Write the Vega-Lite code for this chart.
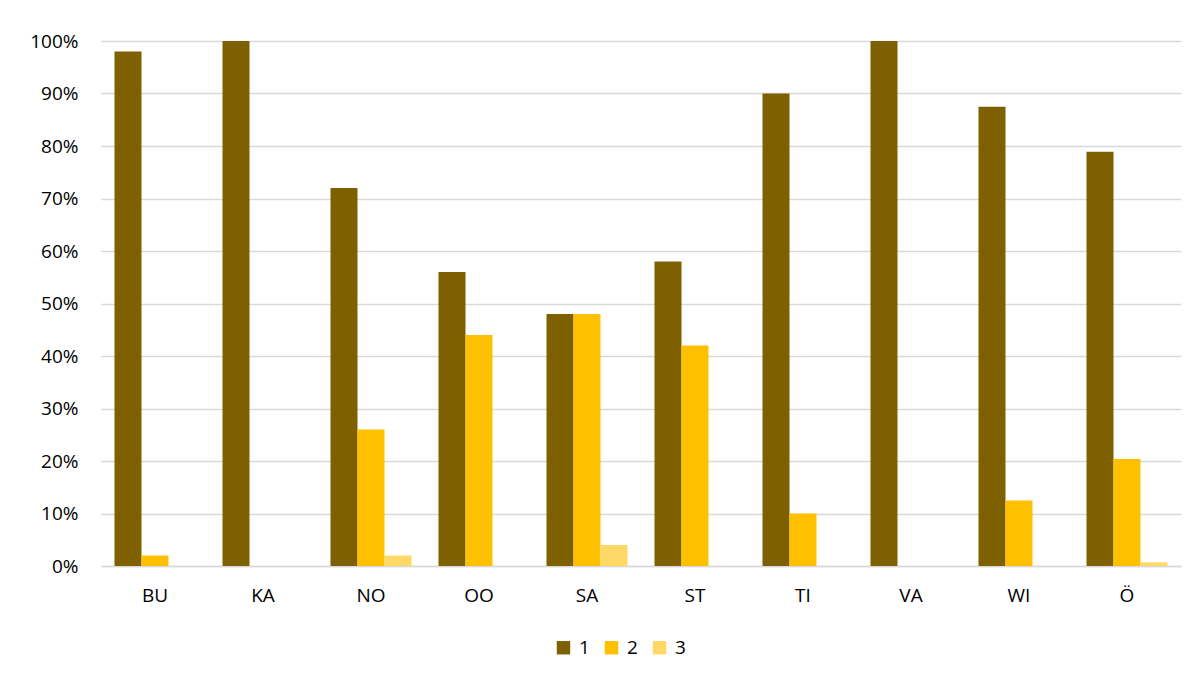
{
  "$schema": "https://vega.github.io/schema/vega-lite/v6.json",
  "width": 1080,
  "height": 525,
  "autosize": {"type": "none"},
  "padding": {"left": 101, "top": 41, "right": 17, "bottom": 116},
  "background": "white",
  "config": {
    "view": {"stroke": null},
    "font": "Open Sans"
  },
  "data": {
    "values": [
      {"region": "BU", "series": "1", "value": 0.98},
      {"region": "BU", "series": "2", "value": 0.02},
      {"region": "BU", "series": "3", "value": 0},
      {"region": "KA", "series": "1", "value": 1.0},
      {"region": "KA", "series": "2", "value": 0},
      {"region": "KA", "series": "3", "value": 0},
      {"region": "NO", "series": "1", "value": 0.72},
      {"region": "NO", "series": "2", "value": 0.26},
      {"region": "NO", "series": "3", "value": 0.02},
      {"region": "OO", "series": "1", "value": 0.56},
      {"region": "OO", "series": "2", "value": 0.44},
      {"region": "OO", "series": "3", "value": 0},
      {"region": "SA", "series": "1", "value": 0.48},
      {"region": "SA", "series": "2", "value": 0.48},
      {"region": "SA", "series": "3", "value": 0.04},
      {"region": "ST", "series": "1", "value": 0.58},
      {"region": "ST", "series": "2", "value": 0.42},
      {"region": "ST", "series": "3", "value": 0},
      {"region": "TI", "series": "1", "value": 0.90},
      {"region": "TI", "series": "2", "value": 0.10},
      {"region": "TI", "series": "3", "value": 0},
      {"region": "VA", "series": "1", "value": 1.0},
      {"region": "VA", "series": "2", "value": 0},
      {"region": "VA", "series": "3", "value": 0},
      {"region": "WI", "series": "1", "value": 0.875},
      {"region": "WI", "series": "2", "value": 0.125},
      {"region": "WI", "series": "3", "value": 0},
      {"region": "Ö", "series": "1", "value": 0.789},
      {"region": "Ö", "series": "2", "value": 0.204},
      {"region": "Ö", "series": "3", "value": 0.007}
    ]
  },
  "mark": {"type": "bar"},
  "encoding": {
    "x": {
      "field": "region",
      "type": "nominal",
      "sort": null,
      "scale": {"paddingInner": 0.25, "paddingOuter": 0.125},
      "axis": {
        "title": null,
        "labelAngle": 0,
        "ticks": false,
        "domainColor": "#d9d9d9",
        "domainWidth": 1.5,
        "labelPadding": 20,
        "labelFontSize": 19,
        "labelColor": "#000000",
        "labelFont": "Open Sans"
      }
    },
    "xOffset": {"field": "series", "type": "nominal", "scale": {"paddingInner": 0, "paddingOuter": 0}},
    "y": {
      "field": "value",
      "type": "quantitative",
      "scale": {"domain": [0, 1]},
      "axis": {
        "title": null,
        "format": ".0%",
        "values": [0, 0.1, 0.2, 0.3, 0.4, 0.5, 0.6, 0.7, 0.8, 0.9, 1.0],
        "labelOverlap": false,
        "ticks": false,
        "domain": false,
        "gridColor": "#d9d9d9",
        "gridWidth": 1.3,
        "labelPadding": 23,
        "labelFontSize": 19,
        "labelColor": "#000000",
        "labelFont": "Open Sans"
      }
    },
    "color": {
      "field": "series",
      "type": "nominal",
      "scale": {"domain": ["1", "2", "3"], "range": ["#7f6000", "#ffc000", "#ffd966"]},
      "legend": {
        "title": null,
        "orient": "none",
        "legendX": 453,
        "legendY": 597,
        "direction": "horizontal",
        "symbolType": "square",
        "symbolSize": 180,
        "symbolStrokeWidth": 0,
        "labelFontSize": 19,
        "labelFont": "Open Sans",
        "labelColor": "#000000",
        "columnPadding": 12,
        "labelOffset": 6
      }
    }
  }
}
